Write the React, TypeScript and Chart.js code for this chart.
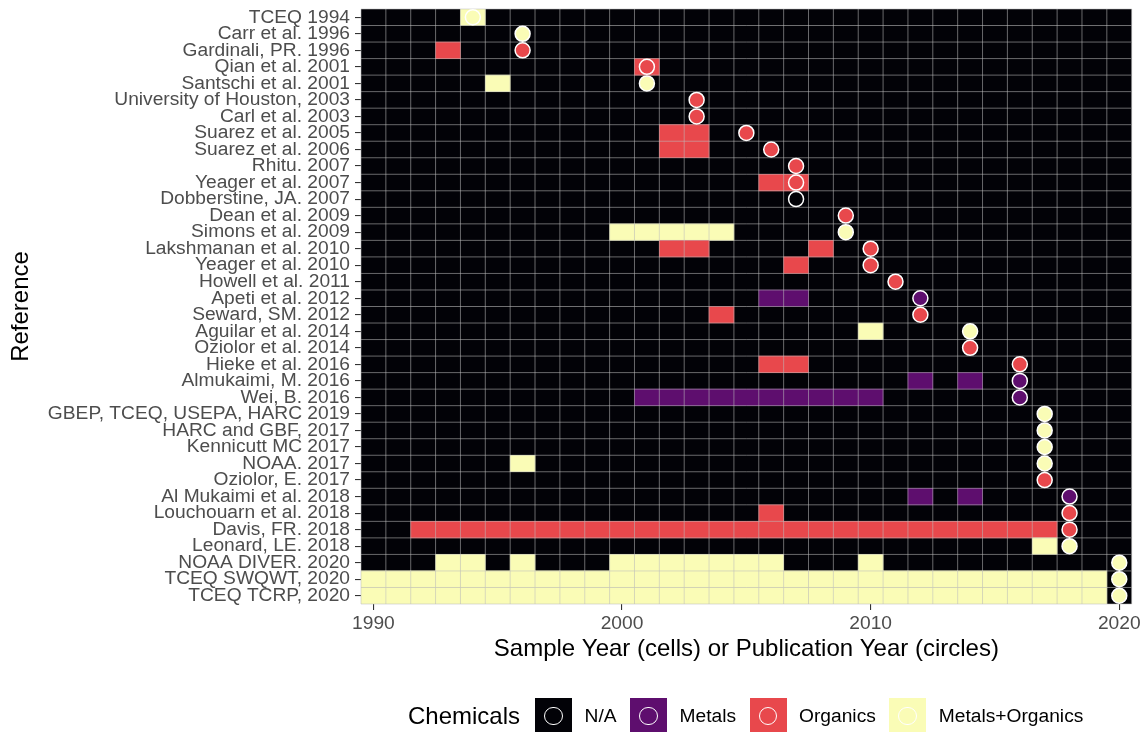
import React, { useEffect, useRef } from 'react';
import { Chart, registerables } from 'chart.js';

Chart.register(...registerables);

const FONT = "'Liberation Sans', Arial, Helvetica, sans-serif";

// One row per reference, top to bottom.
const references = [
  'TCEQ 1994',
  'Carr et al. 1996',
  'Gardinali, PR. 1996',
  'Qian et al. 2001',
  'Santschi et al. 2001',
  'University of Houston, 2003',
  'Carl et al. 2003',
  'Suarez et al. 2005',
  'Suarez et al. 2006',
  'Rhitu. 2007',
  'Yeager et al. 2007',
  'Dobberstine, JA. 2007',
  'Dean et al. 2009',
  'Simons et al. 2009',
  'Lakshmanan et al. 2010',
  'Yeager et al. 2010',
  'Howell et al. 2011',
  'Apeti et al. 2012',
  'Seward, SM. 2012',
  'Aguilar et al. 2014',
  'Oziolor et al. 2014',
  'Hieke et al. 2016',
  'Almukaimi, M. 2016',
  'Wei, B. 2016',
  'GBEP, TCEQ, USEPA, HARC 2019',
  'HARC and GBF, 2017',
  'Kennicutt MC 2017',
  'NOAA. 2017',
  'Oziolor, E. 2017',
  'Al Mukaimi et al. 2018',
  'Louchouarn et al. 2018',
  'Davis, FR. 2018',
  'Leonard, LE. 2018',
  'NOAA DIVER. 2020',
  'TCEQ SWQWT, 2020',
  'TCEQ TCRP, 2020',
];

// Publication year (circles) and the chemicals each reference reports.
const publicationYears = [
  1994, 1996, 1996, 2001, 2001, 2003, 2003, 2005, 2006, 2007, 2007, 2007,
  2009, 2009, 2010, 2010, 2011, 2012, 2012, 2014, 2014, 2016, 2016, 2016,
  2017, 2017, 2017, 2017, 2017, 2018, 2018, 2018, 2018, 2020, 2020, 2020,
];

const publicationChemicals = [
  'Metals+Organics', 'Metals+Organics', 'Organics', 'Organics', 'Metals+Organics', 'Organics',
  'Organics', 'Organics', 'Organics', 'Organics', 'Organics', 'N/A',
  'Organics', 'Metals+Organics', 'Organics', 'Organics', 'Organics', 'Metals',
  'Organics', 'Metals+Organics', 'Organics', 'Organics', 'Metals', 'Metals',
  'Metals+Organics', 'Metals+Organics', 'Metals+Organics', 'Metals+Organics', 'Organics', 'Metals',
  'Organics', 'Organics', 'Metals+Organics', 'Metals+Organics', 'Metals+Organics', 'Metals+Organics',
];

// Sample years (cells), per reference, by chemical class.
const organicsSampleYears: number[][] = [
  [], [], [1993], [2001], [], [], [], [2002, 2003], [2002, 2003], [], [2006, 2007], [],
  [], [], [2002, 2003, 2008], [2007], [], [], [2004], [], [], [2006, 2007], [], [],
  [], [], [], [], [], [], [2006],
  [1992, 1993, 1994, 1995, 1996, 1997, 1998, 1999, 2000, 2001, 2002, 2003, 2004,
    2005, 2006, 2007, 2008, 2009, 2010, 2011, 2012, 2013, 2014, 2015, 2016, 2017],
  [], [], [], [],
];

const metalsSampleYears: number[][] = [
  [], [], [], [], [], [], [], [], [], [], [], [],
  [], [], [], [], [], [2006, 2007], [], [], [], [], [2012, 2014],
  [2001, 2002, 2003, 2004, 2005, 2006, 2007, 2008, 2009, 2010],
  [], [], [], [], [], [2012, 2014], [], [], [], [], [], [],
];

const metalsOrganicsSampleYears: number[][] = [
  [1994], [], [], [], [1995], [], [], [], [], [], [], [],
  [], [2000, 2001, 2002, 2003, 2004], [], [], [], [], [], [2010], [], [], [], [],
  [], [], [], [1996], [], [], [], [], [2017],
  [1993, 1994, 1996, 2000, 2001, 2002, 2003, 2004, 2005, 2006, 2010],
  [1990, 1991, 1992, 1993, 1994, 1995, 1996, 1997, 1998, 1999, 2000, 2001, 2002, 2003, 2004,
    2005, 2006, 2007, 2008, 2009, 2010, 2011, 2012, 2013, 2014, 2015, 2016, 2017, 2018, 2019],
  [1990, 1991, 1992, 1993, 1994, 1995, 1996, 1997, 1998, 1999, 2000, 2001, 2002, 2003, 2004,
    2005, 2006, 2007, 2008, 2009, 2010, 2011, 2012, 2013, 2014, 2015, 2016, 2017, 2018, 2019],
];

const firstYear = 1990;
const lastYear = 2020;
const xTickYears = [1990, 2000, 2010, 2020];

const chemicalCategories = ['N/A', 'Metals', 'Organics', 'Metals+Organics'];
const chemicalColors: Record<string, string> = {
  'N/A': '#020207',
  Metals: '#5E0E6E',
  Organics: '#E8484C',
  'Metals+Organics': '#FAFCB6',
};

const CELL_LINE = 'rgba(190, 190, 190, 0.55)';

type Cell = { year: number; chem: string };

const cellsByRow: Cell[][] = references.map((_, i) => [
  ...metalsSampleYears[i].map((year) => ({ year, chem: 'Metals' })),
  ...organicsSampleYears[i].map((year) => ({ year, chem: 'Organics' })),
  ...metalsOrganicsSampleYears[i].map((year) => ({ year, chem: 'Metals+Organics' })),
]);

// Tile borders go above the cells but below the publication circles.
const cellGridPlugin = {
  id: 'cellGrid',
  beforeDatasetDraw(chart: any, args: any) {
    if (chart.data.datasets[args.index].type !== 'scatter') return;
    const { ctx, chartArea, scales } = chart;
    const xs = scales.x;
    const ys = scales.y;
    ctx.save();
    ctx.strokeStyle = CELL_LINE;
    ctx.lineWidth = 1;
    ctx.beginPath();
    for (let edge = firstYear - 0.5; edge <= lastYear + 0.5; edge += 1) {
      const px = xs.getPixelForValue(edge);
      ctx.moveTo(px, chartArea.top);
      ctx.lineTo(px, chartArea.bottom);
    }
    for (let i = 0; i <= references.length; i++) {
      const py = ys.getPixelForValue(i - 0.5);
      ctx.moveTo(chartArea.left, py);
      ctx.lineTo(chartArea.right, py);
    }
    ctx.stroke();
    ctx.restore();
  },
};

function LegendKey({ color }: { color: string }) {
  return (
    <div
      style={{
        width: 37,
        height: 36,
        background: color,
        position: 'relative',
        flex: '0 0 auto',
      }}
    >
      <div
        style={{
          position: 'absolute',
          left: 9,
          top: 8.5,
          width: 16.6,
          height: 16.6,
          borderRadius: '50%',
          border: '1.2px solid #ffffff',
          background: color,
        }}
      />
    </div>
  );
}

export default function App() {
  const canvasRef = useRef<HTMLCanvasElement | null>(null);

  useEffect(() => {
    const canvas = canvasRef.current;
    if (!canvas) return;

    const maxCells = Math.max(...cellsByRow.map((c) => c.length));
    const cellDatasets = Array.from({ length: maxCells }, (_, k) => ({
      type: 'bar' as const,
      order: 2,
      data: cellsByRow.map((c) => (c[k] ? [c[k].year - 0.5, c[k].year + 0.5] : null)),
      backgroundColor: cellsByRow.map((c) => (c[k] ? chemicalColors[c[k].chem] : 'rgba(0,0,0,0)')),
      borderWidth: 0,
      barPercentage: 1,
      categoryPercentage: 1,
      grouped: false,
    }));

    const chart = new Chart(canvas, {
      type: 'bar',
      data: {
        labels: references,
        datasets: [
          {
            type: 'bar',
            order: 3,
            data: references.map(() => [firstYear - 0.5, lastYear + 0.5]),
            backgroundColor: chemicalColors['N/A'],
            borderWidth: 0,
            barPercentage: 1,
            categoryPercentage: 1,
            grouped: false,
          },
          ...cellDatasets,
          {
            type: 'scatter',
            order: 1,
            data: references.map((ref, i) => ({ x: publicationYears[i], y: ref })),
            pointBackgroundColor: publicationChemicals.map((c) => chemicalColors[c]),
            pointBorderColor: '#ffffff',
            pointBorderWidth: 1.5,
            pointRadius: 7.5,
            showLine: false,
          },
        ] as any,
      },
      options: {
        indexAxis: 'y',
        animation: false,
        responsive: false,
        maintainAspectRatio: false,
        events: [],
        layout: { padding: { left: 0, top: 9, right: 15.3, bottom: 68 } },
        plugins: {
          legend: { display: false },
          tooltip: { enabled: false },
        },
        scales: {
          x: {
            type: 'linear',
            min: firstYear - 0.5,
            max: lastYear + 0.5,
            afterBuildTicks: (s: any) => {
              s.ticks = xTickYears.map((v) => ({ value: v }));
            },
            afterFit: (s: any) => {
              s.height = 60;
              s.paddingLeft = 0;
              s.paddingRight = 0;
            },
            ticks: {
              font: { family: FONT, size: 19.2 },
              color: '#4D4D4D',
              padding: 2,
              maxRotation: 0,
              callback: (v: any) => String(v),
            },
            grid: {
              drawOnChartArea: false,
              drawTicks: true,
              tickLength: 6,
              color: '#333333',
              lineWidth: 1.1,
            },
            border: { display: false },
            title: {
              display: true,
              text: 'Sample Year (cells) or Publication Year (circles)',
              font: { family: FONT, size: 24 },
              color: '#000000',
              padding: { top: 0, bottom: 0 },
            },
          },
          y: {
            type: 'category',
            labels: references,
            offset: true,
            afterFit: (s: any) => {
              s.width = 361;
              s.paddingTop = 0;
              s.paddingBottom = 0;
            },
            ticks: {
              autoSkip: false,
              font: { family: FONT, size: 19.2 },
              color: '#4D4D4D',
              padding: 5,
            },
            grid: {
              offset: false,
              drawOnChartArea: false,
              drawTicks: true,
              tickLength: 6,
              color: '#333333',
              lineWidth: 1.1,
            },
            border: { display: false },
            title: {
              display: true,
              text: 'Reference',
              font: { family: FONT, size: 24 },
              color: '#000000',
              padding: { top: 7.2, bottom: 0 },
            },
          },
        },
      },
      plugins: [cellGridPlugin],
    } as any);

    return () => chart.destroy();
  }, []);

  return (
    <div
      style={{
        position: 'fixed',
        left: 0,
        top: 0,
        width: 1147,
        height: 732,
        overflow: 'hidden',
        background: '#ffffff',
        fontFamily: FONT,
      }}
    >
      <canvas ref={canvasRef} width={1147} height={732} style={{ display: 'block' }} />
      <div
        style={{
          position: 'absolute',
          left: 408,
          top: 698,
          height: 36,
          display: 'flex',
          alignItems: 'center',
          whiteSpace: 'nowrap',
        }}
      >
        <span style={{ fontSize: 24, color: '#000000', marginRight: 15 }}>Chemicals</span>
        {chemicalCategories.map((cat, i) => (
          <React.Fragment key={cat}>
            <LegendKey color={chemicalColors[cat]} />
            <span
              style={{
                fontSize: 19.2,
                color: '#000000',
                marginLeft: 12.5,
                marginRight: i < chemicalCategories.length - 1 ? 13.5 : 0,
              }}
            >
              {cat}
            </span>
          </React.Fragment>
        ))}
      </div>
    </div>
  );
}
